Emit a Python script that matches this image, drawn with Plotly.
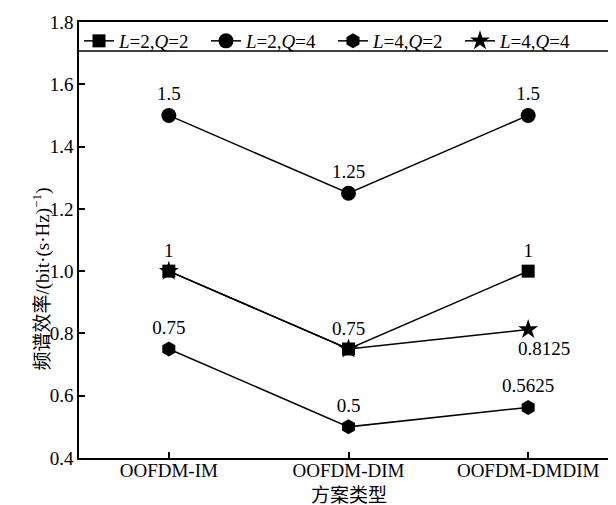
import plotly.graph_objects as go

categories = ["OOFDM-IM", "OOFDM-DIM", "OOFDM-DMDIM"]
names = ["<i>L</i>=2,<i>Q</i>=2", "<i>L</i>=2,<i>Q</i>=4", "<i>L</i>=4,<i>Q</i>=2", "<i>L</i>=4,<i>Q</i>=4"]
vals_l2q2 = [1.0, 0.75, 1.0]
vals_l2q4 = [1.5, 1.25, 1.5]
vals_l4q2 = [0.75, 0.5, 0.5625]
vals_l4q4 = [1.0, 0.75, 0.8125]
labels_l2q2 = ["1", "0.75", "1"]
labels_l2q4 = ["1.5", "1.25", "1.5"]
labels_l4q2 = ["0.75", "0.5", "0.5625"]
labels_l4q4 = ["", "", "0.8125"]
y_ticks = [0.4, 0.6, 0.8, 1.0, 1.2, 1.4, 1.6, 1.8]
y_tick_text = ["0.4", "0.6", "0.8", "1.0", "1.2", "1.4", "1.6", "1.8"]

FONT = "'Liberation Serif', 'Times New Roman', 'Noto Sans CJK SC', serif"

fig = go.Figure()
series = [
    (vals_l2q2, labels_l2q2, "square", 13),
    (vals_l2q4, labels_l2q4, "circle", 15),
    (vals_l4q2, labels_l4q2, "hexagon", 15),
    (vals_l4q4, [""] * 3, "star", 15),
]
for (vals, labs, sym, sz), nm in zip(series, names):
    fig.add_trace(go.Scatter(
        x=categories, y=vals, name=nm, mode="lines+markers+text",
        text=labs, textposition="top center",
        textfont=dict(family=FONT, size=19, color="black"),
        line=dict(color="black", width=1.5),
        marker=dict(symbol=sym, size=sz, color="black"),
        cliponaxis=False,
    ))

# label of the last L=4,Q=4 point, placed below-right of its marker
fig.add_annotation(x=categories[2], y=vals_l4q4[2], text=labels_l4q4[2],
                   showarrow=False, yanchor="top", xanchor="center",
                   xshift=16, yshift=-6,
                   font=dict(family=FONT, size=19, color="black"))

# line separating legend from plot
fig.add_shape(type="line", xref="paper", x0=0, x1=1, yref="y", y0=1.707, y1=1.707,
              line=dict(color="black", width=1.5))

# y-axis title
fig.add_annotation(xref="paper", yref="paper", x=-0.07, y=0.41,
                   text="频谱效率/(bit·(s·Hz)<sup>−1</sup>)", textangle=-90,
                   showarrow=False, xanchor="center", yanchor="middle",
                   font=dict(family=FONT, size=19, color="black"))

# x-axis title
fig.add_annotation(xref="paper", yref="paper", x=0.5, y=-0.086,
                   text="方案类型", showarrow=False,
                   xanchor="center", yanchor="middle",
                   font=dict(family=FONT, size=19, color="black"))

fig.update_layout(
    width=616, height=505,
    margin=dict(l=71, r=4, t=13, b=55),
    paper_bgcolor="white", plot_bgcolor="white",
    font=dict(family=FONT, size=19, color="black"),
    showlegend=True,
    legend=dict(orientation="h", x=0.0, xanchor="left", y=1, yanchor="top",
                bgcolor="rgba(0,0,0,0)", font=dict(family=FONT, size=19),
                entrywidth=82, entrywidthmode="pixels",
                itemclick=False, tracegroupgap=0),
    xaxis=dict(
        type="category", range=[-0.5, 2.5],
        showline=True, linecolor="black", linewidth=1.5, mirror=True,
        ticks="inside", ticklen=6, tickwidth=1.5, tickcolor="black",
        ticklabelstandoff=-6,
        showgrid=False, zeroline=False,
        tickfont=dict(family=FONT, size=19),
    ),
    yaxis=dict(
        range=[0.4, 1.8], tickvals=y_ticks, ticktext=y_tick_text,
        showline=True, linecolor="black", linewidth=1.5, mirror=True,
        ticks="inside", ticklen=6, tickwidth=1.5, tickcolor="black",
        showgrid=False, zeroline=False,
        tickfont=dict(family=FONT, size=19),
    ),
)

fig.write_html("out.html")
